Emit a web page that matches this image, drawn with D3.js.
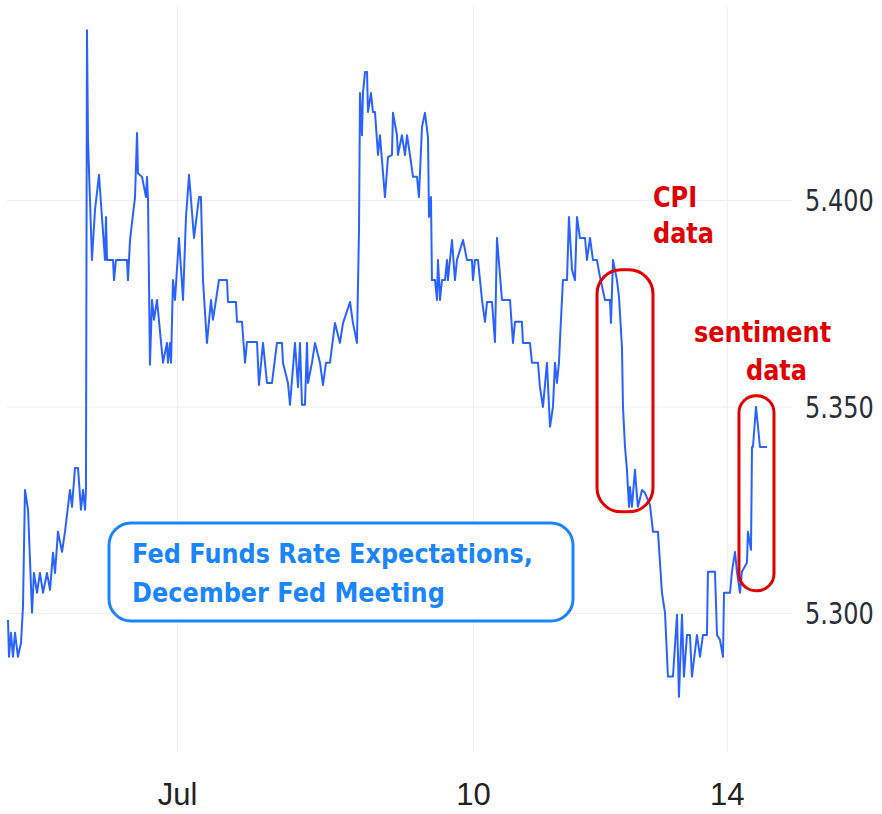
<!DOCTYPE html>
<html>
<head>
<meta charset="utf-8">
<script src="https://cdn.jsdelivr.net/npm/d3@7"></script>
<style>
  body { margin: 0; background: #fff; }
  svg { display: block; }
</style>
</head>
<body>
<div id="container"></div>
<script>
// session time in days (0 = start of July)
const times = [
  -2.000, -1.988, -1.965, -1.941, -1.917, -1.882, -1.846, -1.823, -1.799, -1.763,
  -1.716, -1.693, -1.657, -1.622, -1.586, -1.539, -1.503, -1.468, -1.444, -1.409,
  -1.361, -1.326, -1.267, -1.243, -1.208, -1.172, -1.137, -1.113, -1.089, -1.078,
  -1.066, -1.054, -1.007, -0.971, -0.924, -0.853, -0.841, -0.829, -0.758, -0.746,
  -0.723, -0.593, -0.581, -0.557, -0.498, -0.474, -0.463, -0.415, -0.368, -0.356,
  -0.344, -0.321, -0.297, -0.273, -0.238, -0.167, -0.120, -0.108, -0.084, -0.072,
  -0.049, -0.025, 0.022, 0.070, 0.105, 0.141, 0.200, 0.259, 0.282, 0.306,
  0.353, 0.401, 0.424, 0.460, 0.495, 0.590, 0.602, 0.696, 0.708, 0.767,
  0.803, 0.826, 0.945, 0.968, 1.016, 1.063, 1.122, 1.181, 1.240, 1.252,
  1.311, 1.335, 1.394, 1.430, 1.453, 1.477, 1.512, 1.536, 1.548, 1.595,
  1.631, 1.690, 1.725, 1.761, 1.808, 1.867, 1.926, 1.962, 2.045, 2.080,
  2.127, 2.151, 2.163, 2.186, 2.198, 2.222, 2.246, 2.257, 2.293, 2.316,
  2.340, 2.376, 2.399, 2.458, 2.494, 2.541, 2.553, 2.600, 2.612, 2.659,
  2.695, 2.719, 2.754, 2.790, 2.837, 2.860, 2.896, 2.931, 2.967, 2.979,
  3.002, 3.014, 3.050, 3.073, 3.085, 3.109, 3.132, 3.168, 3.192, 3.203,
  3.251, 3.286, 3.310, 3.381, 3.428, 3.487, 3.499, 3.523, 3.558, 3.606,
  3.641, 3.665, 3.724, 3.759, 3.783, 3.842, 3.937, 3.972, 3.996, 4.078,
  4.090, 4.173, 4.197, 4.268, 4.291, 4.327, 4.374, 4.410, 4.445, 4.469,
  4.492, 4.516, 4.528, 4.563, 4.611, 4.634, 4.670, 4.705, 4.729, 4.764,
  4.824, 4.847, 4.883, 4.918, 4.965, 5.001, 5.060, 5.119, 5.131, 5.155,
  5.202, 5.226, 5.261, 5.273, 5.297, 5.320, 5.344, 5.356, 5.379, 5.415,
  5.439, 5.450, 5.498, 5.533, 5.592, 5.628, 5.687, 5.734, 5.770, 5.805,
  5.864, 5.912, 5.935, 5.971, 5.994, 6.030, 6.065, 6.089, 6.148, 6.184,
  6.219, 6.266, 6.278, 6.361, 6.385, 6.420, 6.456, 6.468, 6.539, 6.562,
  6.598, 6.621, 6.657, 6.680, 6.739, 6.751, 6.787, 6.799, 6.810, 6.846,
  6.870, 6.893, 6.976
];
const rates = [
  5.2983, 5.2894, 5.2952, 5.2894, 5.2952, 5.2894, 5.2928, 5.3015, 5.3298, 5.3250,
  5.3001, 5.3097, 5.3049, 5.3097, 5.3049, 5.3097, 5.3056, 5.3146, 5.3097, 5.3197,
  5.3148, 5.3197, 5.3298, 5.3257, 5.3351, 5.3351, 5.3250, 5.3298, 5.3250, 5.3298,
  5.4411, 5.4145, 5.3855, 5.3976, 5.4061, 5.3855, 5.3959, 5.3855, 5.3855, 5.3806,
  5.3855, 5.3855, 5.3806, 5.3903, 5.4007, 5.4162, 5.4065, 5.4056, 5.4007, 5.4056,
  5.4000, 5.3601, 5.3758, 5.3710, 5.3758, 5.3606, 5.3654, 5.3606, 5.3654, 5.3606,
  5.3806, 5.3758, 5.3908, 5.3758, 5.3959, 5.4061, 5.3908, 5.4007, 5.4007, 5.3806,
  5.3654, 5.3758, 5.3710, 5.3758, 5.3806, 5.3806, 5.3753, 5.3753, 5.3705, 5.3705,
  5.3606, 5.3656, 5.3656, 5.3552, 5.3654, 5.3557, 5.3557, 5.3654, 5.3654, 5.3606,
  5.3557, 5.3504, 5.3654, 5.3547, 5.3654, 5.3504, 5.3504, 5.3654, 5.3557, 5.3606,
  5.3654, 5.3606, 5.3552, 5.3606, 5.3606, 5.3702, 5.3654, 5.3702, 5.3753, 5.3702,
  5.3654, 5.3927, 5.4259, 5.4157, 5.4259, 5.4310, 5.4310, 5.4213, 5.4259, 5.4213,
  5.4213, 5.4109, 5.4157, 5.4007, 5.4104, 5.4109, 5.4211, 5.4157, 5.4109, 5.4157,
  5.4109, 5.4157, 5.4109, 5.4056, 5.4056, 5.4007, 5.4177, 5.4211, 5.4152, 5.3959,
  5.4007, 5.3806, 5.3806, 5.3758, 5.3855, 5.3758, 5.3806, 5.3806, 5.3855, 5.3806,
  5.3903, 5.3806, 5.3855, 5.3903, 5.3855, 5.3855, 5.3806, 5.3855, 5.3855, 5.3758,
  5.3705, 5.3753, 5.3753, 5.3656, 5.3908, 5.3758, 5.3758, 5.3654, 5.3705, 5.3705,
  5.3654, 5.3654, 5.3606, 5.3606, 5.3547, 5.3499, 5.3606, 5.3451, 5.3499, 5.3606,
  5.3557, 5.3606, 5.3661, 5.3806, 5.3806, 5.3959, 5.3831, 5.3806, 5.3959, 5.3908,
  5.3908, 5.3855, 5.3908, 5.3855, 5.3855, 5.3814, 5.3758, 5.3758, 5.3702, 5.3855,
  5.3806, 5.3765, 5.3644, 5.3499, 5.3402, 5.3347, 5.3257, 5.3305, 5.3257, 5.3347,
  5.3281, 5.3257, 5.3298, 5.3291, 5.3262, 5.3197, 5.3197, 5.3049, 5.3001, 5.2846,
  5.2846, 5.2996, 5.2797, 5.2996, 5.2846, 5.2947, 5.2947, 5.2846, 5.2947, 5.2894,
  5.2947, 5.2947, 5.3100, 5.3100, 5.2947, 5.2935, 5.2894, 5.3049, 5.3049, 5.3100,
  5.3148, 5.3100, 5.3049, 5.3100, 5.3122, 5.3197, 5.3153, 5.3402, 5.3402, 5.3499,
  5.3451, 5.3402, 5.3402
];

const xTickValues = [0, 3.5, 6.5];
const xTickLabels = ["Jul", "10", "14"];
const yTickValues = [5.30, 5.35, 5.40];

const titleLines = ["Fed Funds Rate Expectations,", "December Fed Meeting"];
const cpiLines = ["CPI", "data"];
const sentimentLines = ["sentiment", "data"];
// highlighted windows: [t start, t end, low rate, high rate]
const cpiWindow = [4.966, 5.628, 5.3245, 5.3831];
const sentimentWindow = [6.645, 7.059, 5.3054, 5.3526];

const width = 882;
const height = 814;
const plotLeft = 7, plotRight = 792, plotTop = 7, plotBottom = 752;
const blue = "#2962ff";
const red = "#e00000";
const boxBlue = "#1a85ff";

const svg = d3.select("#container")
  .append("svg")
    .attr("width", width)
    .attr("height", height);

const x = d3.scaleLinear().domain([-2, 7]).range([8, 769]);
const y = d3.scaleLinear().domain([5.30, 5.40]).range([613, 200]);

// x axis + vertical grid
const xAxis = svg.append("g")
  .attr("transform", `translate(0,${plotBottom})`)
  .call(d3.axisBottom(x)
    .tickValues(xTickValues)
    .tickFormat((d, i) => xTickLabels[i])
    .tickSizeInner(-(plotBottom - plotTop))
    .tickSizeOuter(0));
xAxis.select(".domain").remove();
xAxis.selectAll(".tick line").attr("stroke", "#eceef2");
xAxis.attr("font-family", "Liberation Sans, Arial, sans-serif").attr("font-size", 31);
xAxis.selectAll(".tick text")
  .attr("fill", "#222")
  .attr("y", 53)
  .attr("dy", 0);

// y axis on the right + horizontal grid
const yAxis = svg.append("g")
  .attr("transform", `translate(${plotRight},0)`)
  .call(d3.axisRight(y)
    .tickValues(yTickValues)
    .tickFormat(d3.format(".3f"))
    .tickSizeInner(-(plotRight - plotLeft))
    .tickSizeOuter(0));
yAxis.select(".domain").remove();
yAxis.selectAll(".tick line").attr("stroke", "#eceef2");
yAxis.attr("font-family", "DejaVu Sans, Verdana, sans-serif").attr("font-size", 24);
yAxis.selectAll(".tick text")
  .attr("fill", "#2a2e39")
  .attr("x", 13)
  .attr("dy", "0.365em")
  .attr("transform", "scale(1,1.25)");

// the rate line
const points = times.map((t, i) => [t, rates[i]]);
const lineBuilder = d3.line()
  .x((d) => x(d[0]))
  .y((d) => y(d[1]));

svg.append("path")
  .attr("d", lineBuilder(points))
  .attr("fill", "none")
  .attr("stroke", blue)
  .attr("stroke-width", 2)
  .attr("stroke-linejoin", "round");

// title box
const titleG = svg.append("g");
titleG.append("rect")
  .attr("x", 109).attr("y", 523)
  .attr("width", 464).attr("height", 98)
  .attr("rx", 22)
  .attr("fill", "#fff")
  .attr("stroke", boxBlue)
  .attr("stroke-width", 3);
titleG.selectAll("text")
  .data(titleLines)
  .join("text")
    .attr("transform", (d, i) => `translate(132,${563 + i * 39}) scale(1,1.13)`)
    .attr("font-family", "DejaVu Sans, Verdana, sans-serif")
    .attr("font-weight", "bold")
    .attr("font-size", 24)
    .attr("fill", boxBlue)
    .text((d) => d);

// highlight windows
[cpiWindow, sentimentWindow].forEach((w, i) => {
  const x0 = x(w[0]), x1 = x(w[1]);
  svg.append("rect")
    .attr("x", x0).attr("y", y(w[3]))
    .attr("width", x1 - x0).attr("height", y(w[2]) - y(w[3]))
    .attr("rx", i === 0 ? 24 : 17)
    .attr("fill", "none")
    .attr("stroke", red)
    .attr("stroke-width", 3);
});

function redLabel(lines, xs, ys) {
  svg.append("g")
    .selectAll("text")
    .data(lines)
    .join("text")
      .attr("transform", (d, i) => `translate(${xs[i]},${ys[i]}) scale(1,1.2)`)
      .attr("font-family", "DejaVu Sans, Verdana, sans-serif")
      .attr("font-weight", "bold")
      .attr("font-size", 24)
      .attr("fill", red)
      .text((d) => d);
}
redLabel(cpiLines, [653, 653], [207, 243]);
redLabel(sentimentLines, [694, 746], [342, 380]);
</script>
</body>
</html>
